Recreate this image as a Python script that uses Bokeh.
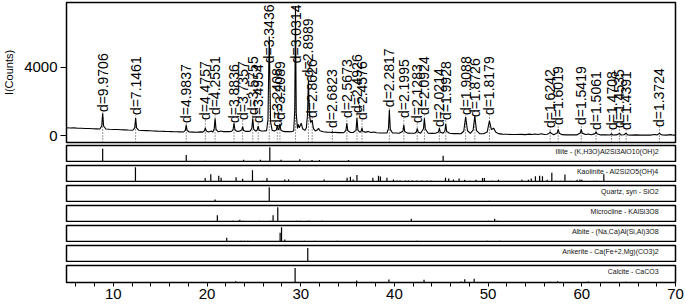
from bokeh.plotting import figure
from bokeh.layouts import column
from bokeh.models import Range1d, FixedTicker, Label
from bokeh.core.properties import value
from bokeh.embed import file_html
from bokeh.resources import INLINE

# ---------------- data ----------------
pattern_2theta = [
    5.0, 5.4, 5.8, 6.2, 6.6, 7.0, 7.4, 7.8, 8.2, 8.56,
    8.76, 8.86, 8.96, 9.2, 9.6, 10.0, 10.4, 10.8, 11.2, 11.6,
    12.08, 12.28, 12.38, 12.48, 12.7, 13.1, 13.5, 13.9, 14.3, 14.7,
    15.1, 15.5, 15.9, 16.3, 16.7, 17.1, 17.5, 17.68, 17.78, 17.88,
    18.1, 18.5, 18.9, 19.3, 19.55, 19.72, 19.82, 19.92, 20.15, 20.45,
    20.62, 20.76, 20.86, 20.96, 21.2, 21.5, 21.7, 22.0, 22.3, 22.6,
    22.78, 22.88, 22.98, 23.2, 23.45, 23.7, 23.8, 23.9, 24.1, 24.4,
    24.6, 24.78, 24.88, 24.98, 25.2, 25.36, 25.46, 25.56, 25.8, 26.1,
    26.35, 26.5, 26.64, 26.78, 26.95, 27.2, 27.4, 27.5, 27.6, 27.68,
    27.78, 27.88, 28.1, 28.4, 28.7, 29.0, 29.25, 29.36, 29.44, 29.52,
    29.65, 29.75, 29.85, 30.05, 30.2, 30.45, 30.6, 30.72, 30.82, 30.92,
    31.05, 31.22, 31.35, 31.55, 31.75, 31.9, 32.05, 32.4, 32.8, 33.1,
    33.3, 33.38, 33.46, 33.7, 34.0, 34.3, 34.6, 34.82, 34.92, 35.02,
    35.3, 35.6, 35.9, 36.0, 36.1, 36.3, 36.45, 36.53, 36.62, 36.9,
    37.2, 37.5, 37.8, 38.1, 38.5, 38.9, 39.2, 39.36, 39.46, 39.56,
    39.8, 40.2, 40.5, 40.9, 41.0, 41.1, 41.4, 41.8, 42.2, 42.35,
    42.44, 42.53, 42.8, 43.1, 43.2, 43.3, 43.6, 44.0, 44.4, 44.7,
    44.8, 44.9, 45.2, 45.38, 45.48, 45.58, 45.9, 46.3, 46.7, 47.1,
    47.4, 47.6, 47.8, 48.1, 48.4, 48.58, 48.76, 49.1, 49.5, 49.9,
    50.14, 50.35, 50.6, 50.8, 51.1, 51.5, 52.0, 52.5, 53.0, 53.5,
    54.0, 54.4, 54.7, 55.0, 55.3, 55.7, 56.0, 56.3, 56.55, 56.62,
    56.72, 57.0, 57.38, 57.48, 57.6, 57.9, 58.3, 58.7, 59.1, 59.5,
    59.84, 59.94, 60.04, 60.4, 60.7, 61.0, 61.42, 61.52, 61.62, 62.0,
    62.5, 63.0, 63.17, 63.3, 63.7, 64.01, 64.2, 64.5, 64.73, 64.9,
    65.3, 65.8, 66.3, 66.8, 67.3, 67.8, 68.0, 68.2, 68.29, 68.4,
    68.6, 69.0, 69.5, 69.8, 70.0,
]
pattern_counts = [
    455, 440, 445, 425, 430, 410, 415, 395, 390, 380,
    560, 1310, 560, 380, 365, 355, 350, 335, 330, 320,
    310, 450, 1020, 450, 310, 295, 285, 275, 265, 255,
    250, 240, 235, 225, 220, 215, 210, 300, 610, 290,
    205, 200, 195, 215, 200, 280, 450, 270, 205, 260,
    210, 380, 1000, 360, 215, 260, 230, 225, 230, 235,
    350, 710, 340, 240, 250, 320, 515, 300, 245, 240,
    250, 420, 1000, 380, 250, 330, 555, 310, 260, 270,
    280, 900, 5800, 800, 300, 260, 330, 610, 330, 360,
    670, 320, 240, 230, 225, 220, 260, 1500, 7600, 1300,
    420, 650, 450, 720, 400, 300, 450, 1200, 3200, 1300,
    750, 900, 420, 270, 320, 420, 280, 220, 200, 190,
    175, 220, 175, 185, 170, 175, 165, 300, 720, 290,
    180, 175, 300, 1020, 320, 190, 250, 440, 240, 200,
    230, 180, 210, 160, 150, 145, 150, 400, 1490, 360,
    145, 150, 135, 250, 610, 230, 140, 135, 140, 220,
    420, 210, 130, 400, 1010, 380, 135, 125, 130, 200,
    440, 190, 140, 250, 670, 230, 135, 110, 115, 105,
    250, 1100, 280, 130, 320, 1140, 290, 110, 100, 200,
    865, 350, 430, 200, 110, 80, 70, 60, 55, 65,
    50, 80, 55, 90, 60, 100, 60, 70, 140, 220,
    130, 50, 150, 360, 130, 50, 40, 45, 35, 40,
    150, 360, 140, 60, 90, 45, 110, 220, 100, 35,
    40, 30, 90, 30, 35, 120, 30, 45, 130, 30,
    25, 35, 20, 30, 25, 60, 35, 90, 140, 80,
    30, 25, 50, 20, 30,
]

# labelled reflections: 2theta position, d-spacing text, label start height (counts)
peak_2theta = [8.862, 12.376, 17.783, 19.820, 20.860, 22.880, 23.800, 24.883, 25.463,
               26.638, 27.500, 27.778, 29.442, 30.820, 31.222, 33.378, 34.920, 36.002,
               36.533, 39.462, 41.000, 42.436, 43.202, 44.800, 45.480, 47.602, 48.580,
               50.142, 56.622, 57.482, 59.944, 61.524, 63.170, 64.012, 64.732, 68.286]
peak_d = ["9.9706", "7.1461", "4.9837", "4.4757", "4.2551", "3.8836", "3.7357", "3.5755",
          "3.4954", "3.3436", "3.2408", "3.2089", "3.0314", "2.8989", "2.8626", "2.6823",
          "2.5673", "2.4926", "2.4576", "2.2817", "2.1995", "2.1283", "2.0924", "2.0214",
          "1.9928", "1.9088", "1.8726", "1.8179", "1.6242", "1.6019", "1.5419", "1.5061",
          "1.4708", "1.4535", "1.4391", "1.3724"]
label_counts = [1372, 1197, 730, 905, 1197, 730, 905, 1197, 730,
                4234, 496, 905, 4234, 3416, 1022, 438, 1022, 1314,
                905, 1664, 1022, 730, 1197, 496, 905, 1197, 1080,
                1197, 438, 613, 613, 321, 321, 438, 321, 496]

y_ticks = [0, 4000]
x_ticks = [10, 20, 30, 40, 50, 60, 70]
x_minor_ticks = [6, 8, 12, 14, 16, 18, 22, 24, 26, 28, 32, 34, 36, 38, 42, 44, 46, 48,
                 52, 54, 56, 58, 62, 64, 66, 68]

phase_names = [
    "Illite - (K,H3O)Al2Si3AlO10(OH)2",
    "Kaolinite - Al2Si2O5(OH)4",
    "Quartz, syn - SiO2",
    "Microcline - KAlSi3O8",
    "Albite - (Na,Ca)Al(Si,Al)3O8",
    "Ankerite - Ca(Fe+2,Mg)(CO3)2",
    "Calcite - CaCO3",
]
illite_pos = [8.86, 17.78, 19.82, 22.85, 23.9, 25.7, 26.7, 27.9, 29.9, 31.2, 32.0, 35.1,
              35.8, 36.6, 40.3, 45.2, 61.9]
illite_int = [90, 50, 12, 10, 18, 18, 100, 18, 22, 16, 16, 16, 10, 10, 6, 45, 12]

kaolinite_pos = [12.36, 19.8, 20.4, 21.25, 21.5, 23.1, 23.8, 24.85, 26.05, 26.4, 28.3, 28.7,
                 32.5, 34.95, 35.3, 35.6, 36.0, 37.7, 38.3, 38.5, 39.2, 39.9, 40.3, 40.6,
                 41.2, 41.5, 41.9, 42.4, 42.95, 43.5, 43.9, 45.45, 45.8, 46.3, 46.9, 47.5,
                 48.1, 48.7, 49.4, 49.6, 50.4, 51.1, 53.6, 54.3, 54.6, 55.05, 55.5, 55.8,
                 56.3, 56.8, 57.2, 57.7, 58.2, 58.8, 59.5, 59.8, 60.0, 61.3, 61.6, 62.35]
kaolinite_int = [100, 30, 55, 45, 32, 35, 25, 80, 12, 30, 20, 20,
                 20, 32, 38, 20, 50, 32, 45, 40, 32, 20, 14, 14,
                 14, 14, 14, 14, 14, 14, 14, 32, 26, 20, 26, 18,
                 12, 18, 30, 30, 12, 18, 18, 18, 26, 42, 45, 42,
                 18, 65, 12, 12, 52, 12, 18, 20, 18, 12, 12, 55]

quartz_pos = [20.86, 26.64, 36.54, 39.47, 40.29, 42.45, 45.79, 50.14, 54.87, 59.96, 64.0,
              67.74, 68.14, 68.3]
quartz_int = [20, 100, 7, 7, 5, 6, 5, 12, 5, 8, 3, 5, 8, 6]

microcline_pos = [13.4, 15.0, 19.3, 21.1, 22.4, 22.8, 23.3, 23.5, 23.85, 24.6, 25.0, 25.6,
                  26.8, 27.05, 27.55, 29.6, 29.97, 30.75, 30.95, 32.3, 34.5, 34.8, 35.05,
                  35.8, 37.1, 37.8, 38.9, 39.4, 41.2, 41.8, 42.8, 43.7, 44.2, 44.9, 45.6,
                  46.3, 46.9, 47.6, 48.3, 49.0, 49.6, 50.05, 50.7, 50.95, 51.4, 52.0, 52.9,
                  53.45, 54.0, 54.7, 55.35, 56.1, 56.75]
microcline_int = [6, 6, 6, 48, 8, 12, 12, 18, 12, 6, 6, 12,
                  12, 48, 100, 12, 12, 12, 12, 12, 6, 6, 6,
                  6, 6, 6, 6, 6, 6, 25, 10, 6, 6, 6, 6,
                  6, 6, 6, 6, 6, 6, 12, 25, 12, 6, 6, 6,
                  6, 6, 6, 6, 6, 6]

albite_pos = [14.0, 15.0, 22.1, 23.0, 23.65, 24.0, 24.35, 25.6, 26.4, 27.8, 27.95, 28.3,
              29.6, 30.4, 31.5, 33.9, 35.4, 36.0, 37.6, 38.5, 39.9, 41.2, 42.4, 43.1, 44.2,
              44.7, 49.9, 51.3, 53.0, 56.0, 60.5, 62.0, 66.0]
albite_int = [6, 6, 32, 6, 12, 12, 12, 6, 6, 65, 100, 20,
              6, 12, 12, 12, 6, 6, 6, 6, 6, 6, 12, 6, 6,
              6, 12, 12, 6, 6, 6, 6, 6]

ankerite_pos = [16.4, 22.1, 23.0, 23.9, 30.75, 33.25, 37.2, 41.0, 44.7, 50.05, 50.7, 51.0,
                58.5, 59.8, 63.2, 64.8, 66.5]
ankerite_int = [5, 5, 5, 5, 95, 6, 6, 6, 6, 6, 10, 6, 4, 4, 4, 4, 4]

calcite_pos = [23.05, 29.4, 31.44, 35.97, 39.41, 43.16, 47.12, 47.51, 48.51, 56.58, 57.41,
               58.1, 60.7, 61.0, 61.4, 63.1, 64.7, 65.6]
calcite_int = [8, 95, 4, 14, 20, 18, 6, 22, 25, 5, 8, 4, 6, 4, 4, 4, 5, 4]

# ---------------- plotting ----------------
FONT = "Liberation Sans"
FW = 609
LEFT, RIGHT = 66, 10
x_range = Range1d(5, 70)

main = figure(frame_width=FW, frame_height=140, x_range=x_range, y_range=Range1d(-410, 7800),
              output_backend="svg", toolbar_location=None,
              min_border_left=LEFT, min_border_right=RIGHT, min_border_top=2, min_border_bottom=2,
              x_axis_location=None, y_axis_location="left")
main.grid.visible = False
main.outline_line_color = "black"
main.outline_line_width = 1.5
main.background_fill_color = "white"

main.segment(x0=peak_2theta, y0=[-410] * len(peak_2theta), x1=peak_2theta, y1=label_counts,
             line_color="#222222", line_width=0.9, line_dash="1 2")
main.line(pattern_2theta, pattern_counts, line_color="black", line_width=1.1)
main.text(x=peak_2theta, y=label_counts, text=["d=" + d for d in peak_d],
          angle=90, angle_units="deg", text_align="left", text_baseline="middle",
          text_font=value(FONT), text_font_size="14px", text_color="black")

ya = main.yaxis[0]
ya.ticker = FixedTicker(ticks=y_ticks)
ya.major_label_text_font = FONT
ya.major_label_text_font_size = "15px"
ya.major_label_text_color = "black"
ya.major_tick_out = 6
ya.major_tick_in = 0
ya.minor_tick_out = 0
ya.major_label_standoff = 3
ya.axis_line_color = "black"
ya.axis_label = "I(Counts)"
ya.axis_label_text_font = FONT
ya.axis_label_text_font_size = "11px"
ya.axis_label_text_font_style = "normal"
ya.axis_label_text_color = "black"
ya.axis_label_standoff = 6

phases = [
    (illite_pos, illite_int),
    (kaolinite_pos, kaolinite_int),
    (quartz_pos, quartz_int),
    (microcline_pos, microcline_int),
    (albite_pos, albite_int),
    (ankerite_pos, ankerite_int),
    (calcite_pos, calcite_int),
]

panels = [main]
for i, ((pos, inten), name) in enumerate(zip(phases, phase_names)):
    last = i == len(phases) - 1
    p = figure(frame_width=FW, frame_height=17, x_range=x_range, y_range=Range1d(0, 112),
               output_backend="svg", toolbar_location=None,
               min_border_left=LEFT, min_border_right=RIGHT,
               min_border_top=1 if i == 0 else 3, min_border_bottom=0,
               x_axis_location="below" if last else None, y_axis_location=None)
    p.grid.visible = False
    p.outline_line_color = "black"
    p.outline_line_width = 1.5
    p.segment(x0=pos, y0=[0] * len(pos), x1=pos, y1=inten, line_color="black", line_width=1.2)
    p.add_layout(Label(x=68.2, y=72, text=name, text_align="right", text_baseline="middle",
                       text_font=FONT, text_font_size="7px", text_color="#111111"))
    if last:
        xa = p.xaxis[0]
        xa.ticker = FixedTicker(ticks=x_ticks, minor_ticks=x_minor_ticks)
        xa.major_label_text_font = FONT
        xa.major_label_text_font_size = "15px"
        xa.major_label_text_color = "black"
        xa.major_tick_out = 4
        xa.major_tick_in = 0
        xa.minor_tick_out = 4
        xa.minor_tick_in = 0
        xa.major_label_standoff = 2
        xa.axis_line_color = "black"
        xa.major_tick_line_color = "black"
        xa.minor_tick_line_color = "black"
    panels.append(p)

layout = column(*panels, spacing=0)
open("out.html", "w").write(file_html(layout, INLINE))
